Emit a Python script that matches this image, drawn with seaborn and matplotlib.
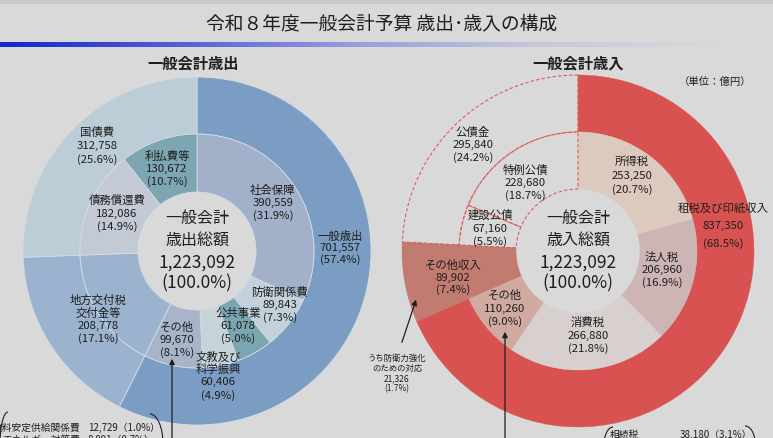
import numpy as np
import matplotlib
matplotlib.use("Agg")
import matplotlib.pyplot as plt
from matplotlib.patches import Arc
import seaborn as sns

# 令和8年度 一般会計予算（単位：億円）
total = 1223092

exp_outer_names = ["一般歳出", "地方交付税\n交付金等", "国債費"]
exp_outer_vals = [701557, 208778, 312758]
exp_outer_colors = ["#7b9dc4", "#9bb3cf", "#bccdd7"]

exp_inner_names = ["社会保障", "防衛関係費", "公共事業", "文教及び\n科学振興", "その他",
                   "地方交付税交付金等", "債務償還費", "利払費等"]
exp_inner_vals = [390559, 89843, 61078, 60406, 99670, 208778, 182086, 130672]
exp_inner_colors = ["#a2b1c9", "#c3d1da", "#79a6b1", "#c7d3da", "#a8b5c9",
                    "#9bb3cf", "#c3cad5", "#7ba6b2"]

rev_outer_names = ["租税及び印紙収入", "その他収入", "公債金"]
rev_outer_vals = [837350, 89902, 295840]
rev_outer_colors = ["#d95252", "#c27b71", "none"]

rev_inner_names = ["所得税", "法人税", "消費税", "その他", "その他収入", "建設公債", "特例公債"]
rev_inner_vals = [253250, 206960, 266880, 110260, 89902, 67160, 228680]
rev_inner_colors = ["#dccabe", "#cdb5b5", "#d8cfcf", "#d0a99f", "#c27b71", "none", "none"]

defense_name = "うち防衛力強化\nのための対応"
defense_val = 21326
note_left = [("食料安定供給関係費", 12729), ("エネルギー対策費", 8091)]
note_right = [("相続税", 38180)]

W, H = 773, 439
bg = "#d9d9d9"
ink = "#1e1e1e"
red_line = "#e05a5a"

sns.set_theme(style="white", rc={"figure.facecolor": bg, "axes.facecolor": bg})
plt.rcParams["font.family"] = ["Noto Sans CJK JP", "DejaVu Sans"]

fig = plt.figure(figsize=(W / 100, H / 100), dpi=100)
ax = fig.add_axes([0, 0, 1, 1])
ax.set_facecolor(bg)


def py(y):
    return H - y


def label_lines(name, val):
    return name.split("\n") + [f"{val:,}", f"({val / total * 100:.1f}%)"]


def put(x, y0, lines, size, gap, **kw):
    for i, s in enumerate(lines):
        ax.text(x, py(y0 + i * gap), s, ha="center", va="center",
                fontsize=size, color=ink, **kw)


# header band and gradient rule
ax.axhspan(py(5), py(0), color="#c9c9c9", lw=0)
grad = sns.blend_palette(["#1428c8", "#5560d6", "#9a9fdc", "#c6c8dc", bg], 300)
ax.imshow(np.array(grad)[None, :, :], extent=[0, 720, py(48), py(43)], aspect="auto")
ax.text(382, py(24), "令和８年度一般会計予算 歳出･歳入の構成", ha="center", va="center",
        fontsize=13.5, color=ink)
ax.text(193, py(63), "一般会計歳出", ha="center", va="center", fontsize=11,
        fontweight="bold", color=ink)
ax.text(578, py(63), "一般会計歳入", ha="center", va="center", fontsize=11,
        fontweight="bold", color=ink)
ax.text(715, py(82), "（単位：億円）", ha="center", va="center", fontsize=7.5, color=ink)

# expenditure donut
lc = (197, py(252))
ax.pie(exp_outer_vals, colors=exp_outer_colors, startangle=90, counterclock=False,
       center=lc, radius=174, frame=True,
       wedgeprops=dict(width=57, edgecolor="#d3dce6", linewidth=0.6))
ax.pie(exp_inner_vals, colors=exp_inner_colors, startangle=90, counterclock=False,
       center=lc, radius=117, frame=True,
       wedgeprops=dict(width=58, edgecolor="#d3dce6", linewidth=0.6))

# revenue donut
rc = (578, py(252))
outer_w, _ = ax.pie(rev_outer_vals, colors=["#ffffff"] * 3, startangle=90,
                    counterclock=False, center=rc, radius=176, frame=True,
                    wedgeprops=dict(width=57, linewidth=0))
inner_w, _ = ax.pie(rev_inner_vals, colors=["#ffffff"] * 7, startangle=90,
                    counterclock=False, center=rc, radius=119, frame=True,
                    wedgeprops=dict(width=57, linewidth=0))
for w, c in zip(list(outer_w) + list(inner_w), rev_outer_colors + rev_inner_colors):
    if c == "none":
        w.set_facecolor("none")
        w.set_edgecolor(red_line)
        w.set_linestyle((0, (3, 2)))
        w.set_linewidth(0.8)
        w.set_zorder(3)
    else:
        w.set_facecolor(c)
        w.set_edgecolor(c)
        w.set_linewidth(0.3)

# wedge labels (x, first line y, line gap) in pixels
exp_outer_pos = [(340, 236, 12), (98, 300, 13), (97, 132, 14)]
exp_inner_pos = [(273, 190, 13), (280, 292, 13), (238, 313, 13), (218, 357, 12.7),
                 (177, 327, 13), None, (117, 200, 13.5), (167, 156, 13)]
rev_outer_pos = [(723, 208, 18), (453, 265, 12.5), (473, 132, 13)]
rev_inner_pos = [(632, 162, 14), (662, 257, 13), (588, 322, 13.5), (505, 295, 13.5),
                 None, (490, 215, 13.5), (525, 170, 13)]

for names, vals, pos in [(exp_outer_names, exp_outer_vals, exp_outer_pos),
                         (exp_inner_names, exp_inner_vals, exp_inner_pos),
                         (rev_outer_names, rev_outer_vals, rev_outer_pos),
                         (rev_inner_names, rev_inner_vals, rev_inner_pos)]:
    for n, v, p in zip(names, vals, pos):
        if p is None:
            continue
        put(p[0], p[1], label_lines(n, v), 8.2, p[2])

# centre totals
for cx, word in [(197, "歳出総額"), (578, "歳入総額")]:
    put(cx, 218, ["一般会計", word], 11.5, 23)
    put(cx, 263, [f"{total:,}", "(100.0%)"], 12.5, 20)

# arrows and side notes
arrow = dict(arrowstyle="-|>", color=ink, lw=0.9, mutation_scale=8)
ax.annotate("", xy=(172, py(357)), xytext=(172, py(445)), arrowprops=arrow)
ax.annotate("", xy=(505, py(330)), xytext=(505, py(445)), arrowprops=arrow)
ax.annotate("", xy=(417, py(298)), xytext=(401, py(346)), arrowprops=arrow)
put(397, 358, label_lines(defense_name, defense_val), 6, 10.3)

for i, (n, v) in enumerate(note_left):
    y = 428 + i * 12
    ax.text(80, py(y), n, ha="right", va="center", fontsize=7, color=ink)
    ax.text(88, py(y), f"{v:,}（{v / total * 100:.1f}%）", ha="left", va="center",
            fontsize=7, color=ink)
for n, v in note_right:
    ax.text(610, py(435), n, ha="left", va="center", fontsize=7, color=ink)
    ax.text(680, py(435), f"{v:,}（{v / total * 100:.1f}%）", ha="left", va="center",
            fontsize=7, color=ink)

# bracket strokes
for (x, y, w, h, t1, t2) in [(8, 445, 16, 64, 90, 180), (150, 445, 26, 60, 0, 90),
                             (613, 446, 18, 36, 90, 180), (745, 444, 20, 34, 0, 90)]:
    ax.add_patch(Arc((x, py(y)), w, h, theta1=t1, theta2=t2, color=ink, lw=0.8))

ax.set_xlim(0, W)
ax.set_ylim(0, H)
ax.set_aspect("auto")
ax.axis("off")

fig.savefig("out.png", dpi=100, facecolor=bg)
